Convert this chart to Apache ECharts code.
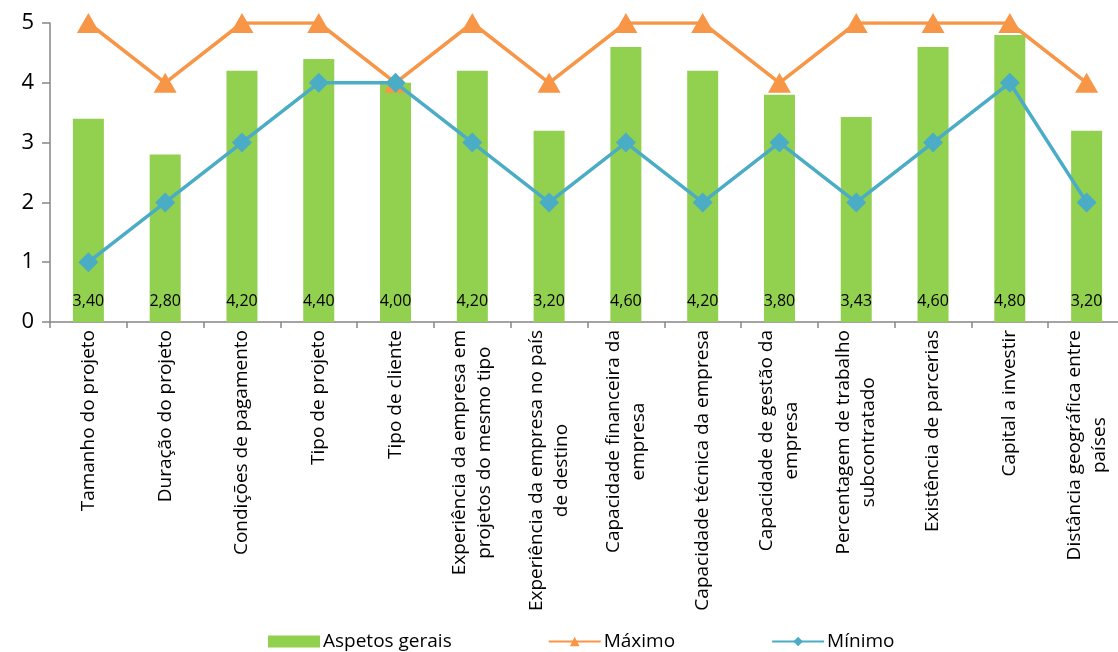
<!DOCTYPE html>
<html>
<head>
<meta charset="utf-8">
<script src="https://cdn.jsdelivr.net/npm/echarts@6/dist/echarts.min.js"></script>
<style>
html,body{margin:0;padding:0;background:#fff;overflow:hidden;}
#c{width:1126px;height:652px;}
</style>
</head>
<body>
<div id="c"></div>
<script>
const categories = [
  "Tamanho do projeto",
  "Duração do projeto",
  "Condições de pagamento",
  "Tipo de projeto",
  "Tipo de cliente",
  "Experiência da empresa em\nprojetos do mesmo tipo",
  "Experiência da empresa no país\nde destino",
  "Capacidade financeira da\nempresa",
  "Capacidade técnica da empresa",
  "Capacidade de gestão da\nempresa",
  "Percentagem de trabalho\nsubcontratado",
  "Existência de parcerias",
  "Capital a investir",
  "Distância geográfica entre\npaíses"
];
const aspetosGerais = [3.40, 2.80, 4.20, 4.40, 4.00, 4.20, 3.20, 4.60, 4.20, 3.80, 3.43, 4.60, 4.80, 3.20];
const maximo = [5, 4, 5, 5, 4, 5, 4, 5, 5, 4, 5, 5, 5, 4];
const minimo = [1, 2, 3, 4, 4, 3, 2, 3, 2, 3, 2, 3, 4, 2];
const yTicks = [0, 1, 2, 3, 4, 5];

const FONT = "'Open Sans', 'Liberation Sans', sans-serif";
const chart = echarts.init(document.getElementById('c'), null, {renderer: 'canvas'});
chart.setOption({
  animation: false,
  textStyle: {fontFamily: FONT, color: '#000'},
  grid: {left: 50, right: 1, top: 23, height: 299, containLabel: false},
  legend: {
    top: 627,
    left: 263,
    itemGap: 96,
    itemWidth: 52,
    itemHeight: 12,
    textStyle: {fontFamily: FONT, fontSize: 19, color: '#000', padding: [0,0,0,-2]},
    data: [
      {name: 'Aspetos gerais', icon: 'rect'},
      {name: 'Máximo'},
      {name: 'Mínimo'}
    ]
  },
  xAxis: {
    type: 'category',
    data: categories,
    boundaryGap: true,
    axisLine: {lineStyle: {color: '#868686', width: 1.5}},
    axisTick: {show: true, length: 6, lineStyle: {color: '#868686', width: 1.5}},
    axisLabel: {
      interval: 0,
      rotate: 90,
      margin: 8,
      fontFamily: FONT,
      fontSize: 19,
      color: '#000',
      lineHeight: 25,
      formatter: function (v) {
        return v.split('\n').map(function (s) { return '{c|' + s + '}'; }).join('\n');
      },
      rich: {c: {align: 'center', fontFamily: FONT, fontSize: 19, lineHeight: 25, color: '#000'}}
    }
  },
  yAxis: {
    type: 'value',
    min: yTicks[0],
    max: yTicks[yTicks.length - 1],
    interval: 1,
    splitLine: {show: false},
    axisLine: {show: true, lineStyle: {color: '#868686', width: 1.5}},
    axisTick: {show: true, length: 8, lineStyle: {color: '#868686', width: 1.5}},
    axisLabel: {fontFamily: FONT, fontSize: 22, color: '#000', margin: 16}
  },
  series: [
    {
      name: 'Aspetos gerais',
      type: 'bar',
      data: aspetosGerais,
      barWidth: 31,
      itemStyle: {color: '#92D050'},
      label: {
        show: true,
        position: 'insideBottom',
        distance: 13,
        fontFamily: FONT,
        fontSize: 16,
        color: '#000',
        formatter: function (p) { return p.value.toFixed(2).replace('.', ','); }
      },
      z: 1
    },
    {
      name: 'Máximo',
      type: 'line',
      data: maximo,
      symbol: 'triangle',
      symbolSize: [23, 20],
      lineStyle: {color: '#F79646', width: 3.5},
      itemStyle: {color: '#F79646'},
      z: 3
    },
    {
      name: 'Mínimo',
      type: 'line',
      data: minimo,
      symbol: 'diamond',
      symbolSize: 20,
      lineStyle: {color: '#4BACC6', width: 3.5},
      itemStyle: {color: '#4BACC6'},
      z: 4
    }
  ]
});
</script>
</body>
</html>
